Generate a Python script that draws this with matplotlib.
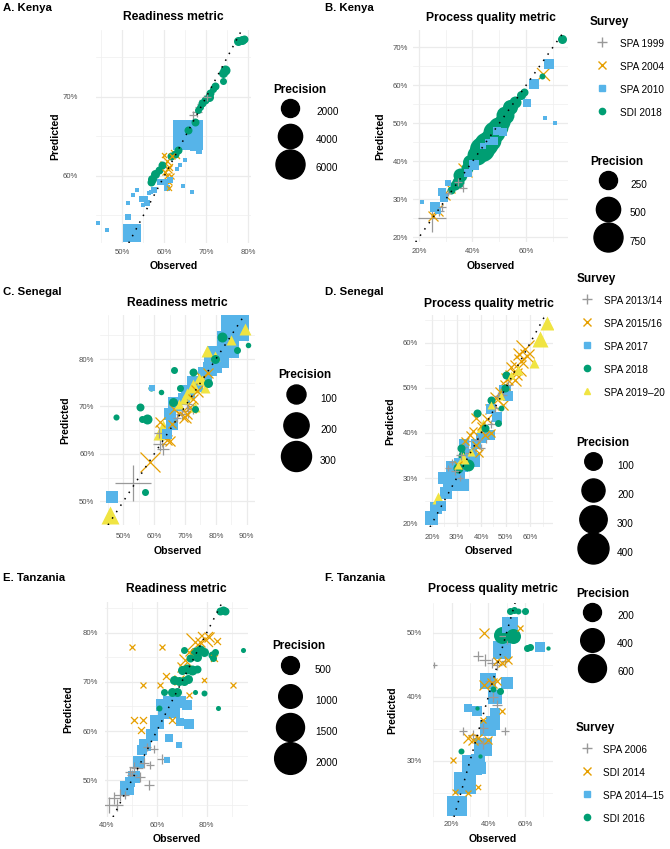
import matplotlib
matplotlib.use("Agg")
import matplotlib.pyplot as plt
from matplotlib.lines import Line2D
import numpy as np

plt.rcParams['font.family'] = ['Liberation Sans', 'DejaVu Sans']

# ---------------- data: observed %, predicted %, precision ----------------
# A. Kenya - readiness
a_surveys = ['SPA 1999', 'SPA 2004', 'SPA 2010', 'SDI 2018']
a_spa1999_obs = [69.3, 68.3, 67.7, 66.7, 70.1, 68.8]
a_spa1999_pred = [69.5, 68.7, 68.1, 67.7, 70.0, 69.0]
a_spa1999_prec = [434, 221, 319, 221, 142, 221]
a_spa2004_obs = [62.5, 61.9, 60.6, 59.8, 61.0, 60.2, 60.6, 61.0, 61.1, 59.8, 60.8, 61.5]
a_spa2004_pred = [62.8, 62.5, 61.8, 61.4, 61.1, 60.5, 59.9, 59.2, 58.4, 62.6, 60.8, 60.0]
a_spa2004_prec = [319, 80, 319, 221, 142, 80, 80, 80, 35, 35, 221, 80]
a_spa2010_obs = [65.5, 67.3, 68.3, 52.2, 44.1, 46.3, 51.4, 51.2, 53.4, 52.6, 55.4, 55.8, 55.0,
                 60.2, 60.6, 61.3, 62.9, 63.7, 64.8, 64.5, 66.5, 59.0, 56.8, 54.6, 56.2, 57.4]
a_spa2010_pred = [65.1, 63.7, 63.1, 52.8, 54.0, 53.1, 54.8, 56.5, 58.2, 57.6, 57.1, 56.5, 56.3,
                  59.2, 58.4, 59.5, 60.9, 61.4, 62.0, 58.7, 58.0, 59.2, 58.0, 57.1, 57.8, 58.2]
a_spa2010_prec = [6459, 434, 80, 1993, 35, 35, 80, 35, 35, 35, 80, 80, 35,
                  80, 80, 80, 35, 35, 35, 35, 9, 80, 35, 80, 35, 80]
a_sdi2018_obs = [77.5, 78.4, 79.0, 74.4, 74.0, 73.9, 72.1, 70.9, 70.5, 69.7, 69.0, 68.5,
                 67.9, 67.3, 65.6, 63.3, 62.5, 61.6, 59.4, 58.6, 57.8, 57.1, 56.8, 71.5]
a_sdi2018_pred = [77.0, 77.2, 77.3, 73.4, 73.0, 71.9, 71.3, 70.4, 70.0, 69.6, 69.2, 68.7,
                  68.3, 66.8, 65.8, 63.2, 62.8, 62.5, 61.4, 60.7, 60.2, 59.6, 59.2, 71.0]
a_sdi2018_prec = [319, 319, 221, 434, 319, 142, 221, 221, 319, 221, 221, 142,
                  142, 221, 221, 221, 221, 221, 221, 221, 319, 319, 221, 142]

# B. Kenya - process quality
b_spa1999_obs = [24.8, 28.5, 34.75, 36.6, 31.0, 27.5]
b_spa1999_pred = [25.2, 28.1, 34.6, 32.9, 31.6, 27.0]
b_spa1999_prec = [692, 28, 28, 28, 10, 54]
b_spa2004_obs = [66.5, 37.2, 31.6, 26.6, 25.4, 30.0]
b_spa2004_pred = [62.9, 37.8, 33.1, 27.3, 25.6, 30.8]
b_spa2004_prec = [111, 134, 54, 90, 54, 28]
b_spa2010_obs = [68.75, 62.9, 60.4, 67.0, 71.0, 49.1, 51.6, 48.0, 40.4, 38.5, 31.0, 28.5,
                 29.5, 26.0, 21.0, 27.0, 44.0, 46.0]
b_spa2010_pred = [65.6, 60.3, 55.3, 51.5, 50.0, 48.0, 47.8, 45.5, 39.1, 37.0, 34.2, 32.0,
                  30.5, 28.1, 29.4, 27.0, 44.0, 45.0]
b_spa2010_prec = [40, 40, 28, 4, 1, 28, 28, 18, 54, 28, 10, 28, 28, 40, 4, 10, 10, 10]
b_sdi2018_obs = [73.3, 66.0, 59.1, 58.0, 56.0, 54.1, 52.3, 51.0, 47.9, 46.6, 43.5, 41.6,
                 39.1, 37.9, 35.4, 34.75, 33.5, 32.0, 49.5, 45.0]
b_sdi2018_pred = [72.2, 62.5, 58.3, 57.5, 55.7, 54.4, 52.2, 50.4, 47.8, 45.6, 43.4, 41.7,
                  39.9, 38.2, 36.4, 34.6, 33.8, 32.5, 49.0, 44.5]
b_sdi2018_prec = [40, 10, 28, 40, 90, 160, 249, 187, 400, 400, 536, 320,
                  160, 90, 134, 90, 54, 28, 320, 489]

# C. Senegal - readiness
s_surveys = ['SPA 2013/14', 'SPA 2015/16', 'SPA 2017', 'SPA 2018', 'SPA 2019\u201320']
c_spa1314_obs = [53.2, 62.5, 61.9, 63.0, 61.5, 71.1, 69.0, 72.5, 70.5, 67.5]
c_spa1314_pred = [53.8, 63.2, 62.1, 61.1, 64.5, 69.1, 68.4, 69.5, 70.5, 67.5]
c_spa1314_prec = [453, 64, 44, 28, 16, 44, 28, 16, 16, 7]
c_spa1516_obs = [58.6, 63.0, 65.2, 68.4, 70.0, 71.6, 73.8, 75.4, 77.5, 61.9, 65.7, 66.5, 70.5, 72.5, 64.0]
c_spa1516_pred = [58.3, 64.6, 62.8, 68.4, 67.7, 69.8, 73.3, 76.1, 77.0, 66.7, 66.3, 69.5, 68.5, 71.5, 63.0]
c_spa1516_prec = [113, 44, 16, 64, 28, 28, 28, 28, 16, 16, 7, 16, 16, 16, 16]
c_spa2017_obs = [86.2, 84.0, 80.8, 79.2, 73.2, 71.1, 69.5, 66.8, 65.1, 65.7, 64.1, 59.2, 46.2, 76.5, 78.0, 82.5]
c_spa2017_pred = [86.7, 82.5, 80.4, 79.0, 74.7, 73.0, 71.5, 70.5, 68.4, 66.3, 64.2, 74.0, 50.9, 76.8, 78.0, 84.5]
c_spa2017_prec = [255, 143, 143, 87, 64, 44, 28, 44, 28, 28, 16, 1, 28, 44, 44, 44]
c_spa2018_obs = [81.9, 87.0, 79.7, 90.5, 66.4, 59.0, 62.2, 55.4, 47.5, 55.9, 57.6, 57.0, 72.7, 77.5, 73.2, 66.2, 68.5]
c_spa2018_pred = [84.7, 81.9, 80.0, 83.0, 77.8, 74.0, 73.0, 69.8, 67.7, 67.4, 67.4, 52.0, 77.2, 75.0, 69.5, 70.9, 74.0]
c_spa2018_prec = [16, 4, 11, 1, 4, 2, 1, 7, 2, 4, 16, 4, 7, 11, 4, 11, 4]
c_spa1920_obs = [89.5, 45.7, 77.0, 72.7, 74.5, 76.5, 70.5, 69.5, 68.0, 63.0, 61.4, 73.2, 75.5, 79.7, 85.0]
c_spa1920_pred = [86.3, 47.1, 81.8, 74.4, 76.0, 74.0, 72.6, 71.6, 70.5, 65.6, 64.2, 69.8, 75.5, 80.7, 84.0]
c_spa1920_prec = [28, 87, 28, 44, 16, 16, 28, 16, 16, 44, 28, 16, 16, 16, 16]

# D. Senegal - process quality
d_spa1314_obs = [34.6, 37.4, 31.9, 29.2, 42.1, 40.1, 46.8, 50.9, 31.3, 26.5, 45.5, 48.9,
                 35.0, 38.5, 33.0, 44.0, 41.0, 28.0]
d_spa1314_pred = [38.2, 37.0, 35.2, 31.5, 38.9, 36.7, 48.1, 50.7, 30.0, 32.3, 45.5, 48.5,
                  35.5, 38.5, 37.0, 42.0, 40.5, 33.5]
d_spa1314_prec = [20, 20, 20, 9, 20, 9, 9, 9, 2, 2, 9, 9, 9, 9, 9, 9, 9, 2]
d_spa1516_obs = [57.7, 55.0, 52.3, 49.6, 46.2, 43.5, 38.0, 35.3, 41.4, 33.3, 53.6, 56.3, 48.9, 38.0, 30.6,
                 45.0, 47.5, 50.5, 52.0, 54.0, 58.5, 40.0, 36.5, 42.5, 44.0, 39.0, 55.5]
d_spa1516_pred = [58.5, 54.4, 52.5, 50.7, 47.7, 45.2, 43.3, 39.6, 39.6, 38.2, 51.8, 55.9, 46.3, 37.4, 33.0,
                  46.5, 49.0, 52.0, 54.5, 53.0, 57.0, 41.5, 40.5, 43.0, 40.0, 35.5, 57.5]
d_spa1516_prec = [108, 79, 35, 20, 35, 20, 20, 9, 9, 9, 35, 55, 20, 9, 9,
                  20, 20, 35, 20, 35, 55, 9, 9, 20, 9, 9, 35]
d_spa2017_obs = [19.7, 21.8, 27.9, 30.6, 31.9, 36.0, 40.1, 44.1, 49.6, 50.9, 43.5, 23.8, 36.7, 25.8, 29.2,
                 25.0, 32.5, 38.0, 46.5, 33.0, 28.0]
d_spa2017_pred = [21.2, 23.4, 28.9, 30.8, 33.0, 35.2, 38.9, 45.2, 49.2, 48.1, 39.6, 23.8, 34.1, 26.7, 29.7,
                  30.0, 28.5, 37.5, 43.5, 37.5, 32.5]
d_spa2017_prec = [55, 35, 79, 55, 55, 35, 20, 20, 35, 20, 20, 20, 55, 35, 55, 35, 35, 20, 20, 20, 35]
d_spa2018_obs = [34.0, 30.6, 50.2, 44.1, 38.4, 46.8, 49.6, 48.2, 31.9, 41.4, 34.6]
d_spa2018_pred = [34.8, 32.3, 52.9, 47.4, 44.4, 42.2, 50.0, 45.5, 36.7, 41.1, 33.0]
d_spa2018_prec = [79, 20, 9, 9, 9, 5, 9, 2, 9, 9, 35]
d_spa1920_obs = [66.9, 63.8, 61.5, 22.4, 40.7, 32.6, 55.0, 48.2, 44.1, 36.0, 30.6, 52.3]
d_spa1920_pred = [64.4, 60.7, 55.5, 25.6, 41.5, 34.5, 54.0, 48.1, 46.3, 35.9, 33.0, 52.9]
d_spa1920_prec = [55, 79, 20, 35, 55, 35, 20, 9, 9, 9, 9, 9]

# E. Tanzania - readiness
t_surveys = ['SPA 2006', 'SDI 2014', 'SPA 2014\u201315', 'SDI 2016']
e_spa2006_obs = [40.7, 42.7, 45.3, 49.3, 52.0, 50.7, 54.7, 57.3, 62.0, 56.7, 47.3, 44.0, 58.7, 50.0, 53.3, 56.0]
e_spa2006_pred = [44.9, 46.3, 46.9, 51.7, 52.4, 52.7, 53.4, 53.0, 54.4, 49.0, 46.9, 44.9, 56.4, 51.0, 50.7, 56.8]
e_spa2006_prec = [374, 166, 166, 94, 166, 94, 94, 42, 94, 94, 42, 166, 42, 94, 94, 42]
e_sdi2014_obs = [50.0, 62.0, 54.4, 61.1, 90.4, 50.7, 54.3, 53.7, 63.6, 78.7, 84.0, 82.7, 79.3,
                 77.3, 80.7, 75.3, 71.3, 70.0, 68.7, 66.0, 72.7, 72.7]
e_sdi2014_pred = [77.0, 77.0, 69.3, 69.3, 69.3, 62.2, 62.2, 60.2, 71.2, 70.3, 78.4, 74.8, 78.8,
                  78.2, 79.2, 78.2, 74.4, 73.1, 70.4, 62.2, 67.3, 76.1]
e_sdi2014_prec = [10, 10, 10, 10, 10, 23, 23, 23, 23, 3, 23, 23, 315, 94, 94, 510, 166, 94, 94, 23, 10, 42]
e_spa1415_obs = [48.0, 50.7, 52.7, 55.3, 58.0, 60.0, 63.3, 64.7, 69.3, 72.0, 72.7, 69.3, 64.7,
                 68.7, 64.0, 54.0, 49.3, 62.0, 67.3]
e_spa1415_pred = [48.4, 50.7, 53.7, 57.1, 59.2, 61.9, 63.9, 65.9, 65.9, 65.3, 61.5, 61.9, 58.5,
                  57.1, 54.1, 56.1, 49.7, 65.3, 63.6]
e_spa1415_prec = [260, 166, 166, 166, 166, 260, 260, 166, 166, 94, 94, 42, 42, 10, 10, 94, 94, 166, 94]
e_sdi2016_obs = [85.3, 86.4, 87.3, 94.3, 70.7, 75.3, 77.3, 78.7, 76.0, 73.3, 82.0, 83.3, 82.4, 70.0,
                 72.0, 74.0, 76.0, 66.7, 68.7, 70.7, 72.3, 62.7, 66.0, 68.0, 75.3, 78.7, 84.3, 60.7]
e_sdi2016_pred = [84.4, 84.6, 84.4, 76.5, 76.5, 76.1, 76.5, 76.1, 75.1, 74.8, 75.5, 76.1, 74.9, 72.4,
                  72.6, 72.4, 72.7, 70.4, 70.2, 70.2, 70.6, 68.0, 68.0, 68.0, 68.0, 67.8, 64.6, 64.6]
e_sdi2016_prec = [42, 42, 42, 3, 23, 94, 94, 65, 65, 42, 42, 23, 23, 65,
                  94, 94, 42, 65, 65, 65, 65, 23, 65, 65, 3, 10, 3, 10]

# F. Tanzania - process quality
f_spa2006_obs = [10.5, 34.5, 38.2, 41.8, 44.5, 49.1, 50.0, 40.9, 42.7, 37.3, 26.4, 49.1, 31.8, 37.3, 44.5]
f_spa2006_pred = [45.0, 46.3, 45.7, 45.2, 45.0, 45.5, 49.4, 42.4, 40.0, 35.1, 34.6, 34.6, 34.1, 32.8, 38.7]
f_spa2006_prec = [3, 35, 64, 35, 35, 15, 147, 35, 35, 35, 15, 15, 35, 64, 35]
f_sdi2014_obs = [37.8, 44.5, 47.3, 50.9, 37.8, 41.8, 44.5, 47.3, 29.1, 31.8, 34.5, 40.0, 37.3,
                 20.9, 21.8, 29.1, 34.5, 57.3]
f_sdi2014_pred = [49.9, 45.5, 45.2, 45.7, 41.8, 42.1, 42.4, 37.7, 33.5, 33.3, 33.5, 33.3, 36.4,
                  30.2, 25.2, 25.0, 26.0, 50.7]
f_sdi2014_prec = [35, 15, 15, 15, 35, 35, 15, 3, 35, 35, 15, 15, 3, 3, 3, 3, 1, 3]
f_spa1415_obs = [22.7, 27.3, 30.9, 37.3, 40.0, 42.7, 40.0, 50.0, 47.3, 51.8, 29.1, 33.6, 43.6,
                 68.2, 34.5, 43.6, 35.5]
f_spa1415_pred = [22.9, 26.5, 29.4, 32.2, 35.1, 35.9, 42.4, 42.1, 47.3, 51.2, 38.2, 37.7, 37.4,
                  47.8, 29.9, 40.0, 28.9]
f_spa1415_prec = [264, 336, 264, 201, 147, 101, 147, 64, 201, 147, 15, 35, 35, 35, 101, 101, 64]
f_sdi2016_obs = [47.3, 50.9, 53.6, 51.8, 54.2, 56.0, 60.0, 60.9, 62.7, 72.4, 46.4, 42.7, 33.6, 25.1, 35.5]
f_sdi2016_pred = [49.6, 49.7, 49.4, 53.4, 53.5, 53.4, 53.4, 47.6, 47.7, 47.6, 40.9, 41.2, 38.2, 31.5, 30.7]
f_sdi2016_prec = [173, 173, 123, 8, 8, 3, 8, 8, 8, 0, 8, 3, 0, 3, 0]

# marker / colour per survey position
STYLES = [('+', '#999999'), ('x', '#E69F00'), ('s', '#56B4E9'), ('o', '#009E73'), ('^', '#F0E442')]

W, H = 670, 849
fig = plt.figure(figsize=(W / 100, H / 100), dpi=100)


def rect(box):
    l, t, r, b = box
    return [l / W, 1 - b / H, (r - l) / W, (b - t) / H]


def diam(v, d0, c):
    # marker diameter in px, area scale like ggplot's scale_size
    return d0 + c * np.sqrt(v)


panels = [
    dict(tag='A. Kenya', tag_xy=(3, 8), title='Readiness metric', box=(96, 30, 251, 243),
         series=[(a_spa1999_obs, a_spa1999_pred, a_spa1999_prec), (a_spa2004_obs, a_spa2004_pred, a_spa2004_prec),
                 (a_spa2010_obs, a_spa2010_pred, a_spa2010_prec), (a_sdi2018_obs, a_sdi2018_pred, a_sdi2018_prec)],
         size=(3.0, 0.336), xlim=(43.7, 80.6), ylim=(51.5, 78.4),
         xt=[50, 60, 70, 80], xm=[45, 55, 65, 75], yt=[60, 70], ym=[55, 65, 75],
         ypad=13, xpad=4, tpad=7, xlab_y=266, ylab_x=55),
    dict(tag='B. Kenya', tag_xy=(325, 8), title='Process quality metric', box=(413, 30, 568, 242),
         series=[(b_spa1999_obs, b_spa1999_pred, b_spa1999_prec), (b_spa2004_obs, b_spa2004_pred, b_spa2004_prec),
                 (b_spa2010_obs, b_spa2010_pred, b_spa2010_prec), (b_sdi2018_obs, b_sdi2018_pred, b_sdi2018_prec)],
         size=(3.0, 0.95), xlim=(17.8, 75.7), ylim=(18.8, 74.6),
         xt=[20, 40, 60], xm=[30, 50, 70], yt=[20, 30, 40, 50, 60, 70], ym=[25, 35, 45, 55, 65],
         ypad=3.4, xpad=4, tpad=6.5, xlab_y=266, ylab_x=380),
    dict(tag='C. Senegal', tag_xy=(3, 292), title='Readiness metric', box=(100, 315, 255, 525),
         series=[(c_spa1314_obs, c_spa1314_pred, c_spa1314_prec), (c_spa1516_obs, c_spa1516_pred, c_spa1516_prec),
                 (c_spa2017_obs, c_spa2017_pred, c_spa2017_prec), (c_spa2018_obs, c_spa2018_pred, c_spa2018_prec),
                 (c_spa1920_obs, c_spa1920_pred, c_spa1920_prec)],
         size=(4.0, 1.503), xlim=(42.4, 92.7), ylim=(45.2, 89.3),
         xt=[50, 60, 70, 80, 90], xm=[45, 55, 65, 75, 85], yt=[50, 60, 70, 80], ym=[45, 55, 65, 75, 85],
         ypad=4, xpad=6, tpad=6.3, xlab_y=551, ylab_x=65),
    dict(tag='D. Senegal', tag_xy=(325, 292), title='Process quality metric', box=(425, 315, 553, 527),
         series=[(d_spa1314_obs, d_spa1314_pred, d_spa1314_prec), (d_spa1516_obs, d_spa1516_pred, d_spa1516_prec),
                 (d_spa2017_obs, d_spa2017_pred, d_spa2017_prec), (d_spa2018_obs, d_spa2018_pred, d_spa2018_prec),
                 (d_spa1920_obs, d_spa1920_pred, d_spa1920_prec)],
         size=(4.0, 1.35), xlim=(17.15, 69.2), ylim=(19.2, 66.1),
         xt=[20, 30, 40, 50, 60], xm=[25, 35, 45, 55, 65], yt=[20, 30, 40, 50, 60], ym=[25, 35, 45, 55, 65],
         ypad=4.8, xpad=4.7, tpad=5.8, xlab_y=551, ylab_x=390),
    dict(tag='E. Tanzania', tag_xy=(3, 578), title='Readiness metric', box=(105, 602, 248, 817),
         series=[(e_spa2006_obs, e_spa2006_pred, e_spa2006_prec), (e_sdi2014_obs, e_sdi2014_pred, e_sdi2014_prec),
                 (e_spa1415_obs, e_spa1415_pred, e_spa1415_prec), (e_sdi2016_obs, e_sdi2016_pred, e_sdi2016_prec)],
         size=(4.0, 0.62), xlim=(39.3, 96.5), ylim=(42.5, 86.25),
         xt=[40, 60, 80], xm=[50, 70, 90], yt=[50, 60, 70, 80], ym=[45, 55, 65, 75, 85],
         ypad=4.8, xpad=3.7, tpad=7, xlab_y=839, ylab_x=68),
    dict(tag='F. Tanzania', tag_xy=(325, 578), title='Process quality metric', box=(433, 603, 553, 817),
         series=[(f_spa2006_obs, f_spa2006_pred, f_spa2006_prec), (f_sdi2014_obs, f_sdi2014_pred, f_sdi2014_prec),
                 (f_spa1415_obs, f_spa1415_pred, f_spa1415_prec), (f_sdi2016_obs, f_sdi2016_pred, f_sdi2016_prec)],
         size=(4.3, 0.966), xlim=(9.8, 75.3), ylim=(21.25, 54.6),
         xt=[20, 40, 60], xm=[10, 30, 50, 70], yt=[30, 40, 50], ym=[25, 35, 45],
         ypad=7.7, xpad=3.2, tpad=7.7, xlab_y=839, ylab_x=392),
]

for p in panels:
    ax = fig.add_axes(rect(p['box']))
    d0, c = p['size']

    # collect every point, draw the biggest first so small ones stay visible
    pts = []
    for k, (obs, pred, prec) in enumerate(p['series']):
        for x, y, v in zip(obs, pred, prec):
            pts.append((diam(v, d0, c), x, y, k))
    pts.sort(key=lambda q: -q[0])
    for d, x, y, k in pts:
        m, col = STYLES[k]
        line_marker = m in ('+', 'x')
        ax.scatter(x, y, s=(d * 0.72) ** 2, marker=m, c=col,
                   linewidths=0.9 if line_marker else 0, zorder=3)

    ax.axline((0, 0), slope=1, color='black', lw=1.1, ls=(0, (1, 4)),
              dash_capstyle='butt', zorder=5)

    ax.set_xlim(*p['xlim'])
    ax.set_ylim(*p['ylim'])
    ax.set_xticks(p['xt'])
    ax.set_xticks(p['xm'], minor=True)
    ax.set_yticks(p['yt'])
    ax.set_yticks(p['ym'], minor=True)
    ax.set_xticklabels([f'{v}%' for v in p['xt']])
    ax.set_yticklabels([f'{v}%' for v in p['yt']])
    ax.grid(which='major', color='#EBEBEB', lw=0.9, zorder=0)
    ax.grid(which='minor', color='#EFEFEF', lw=0.5, zorder=0)
    ax.set_axisbelow(True)
    for s in ax.spines.values():
        s.set_visible(False)
    ax.tick_params(which='both', length=0, labelsize=5.6, labelcolor='#4D4D4D')
    ax.tick_params(axis='y', pad=p['ypad'])
    ax.tick_params(axis='x', pad=p['xpad'])

    ax.set_title(p['title'], fontsize=8.7, fontweight='bold', pad=p['tpad'])
    ax.set_xlabel('Observed', fontsize=7.6, fontweight='bold')
    ax.set_ylabel('Predicted', fontsize=7.6, fontweight='bold')
    l, t, r, b = p['box']
    ax.xaxis.set_label_coords(0.5, (b - p['xlab_y']) / (b - t))
    ax.yaxis.set_label_coords((p['ylab_x'] - l) / (r - l), 0.5)
    ax.xaxis.label.set_va('center')
    ax.yaxis.label.set_va('center')

    fig.text(p['tag_xy'][0] / W, 1 - p['tag_xy'][1] / H, p['tag'],
             fontsize=8.2, fontweight='bold', va='center', ha='left')


def row_height(pitch, gap):
    # matplotlib legend handle box: height = fs * (0.65 * hh + 0.245), fs = 10 px here
    return ((pitch - gap) / 10 - 0.245) / 0.65


def survey_legend(names, x, y, hl, pad):
    sizes = {'+': 7, 'x': 5.5, 's': 4.3, 'o': 4.5, '^': 5}
    handles = [Line2D([], [], ls='', marker=STYLES[i][0], color=STYLES[i][1],
                      markersize=sizes[STYLES[i][0]], mew=1.0) for i in range(len(names))]
    fig.legend(handles, names, loc='upper left', bbox_to_anchor=(x / W, 1 - (y - 5) / H),
               frameon=False, title='Survey', title_fontproperties={'weight': 'bold', 'size': 8.5},
               fontsize=7.2, alignment='left', borderpad=0, borderaxespad=0,
               handlelength=hl, handletextpad=pad, handleheight=row_height(23, 9), labelspacing=0.9)


def size_legend(breaks, d0, c, x, y, pitch, hl, pad):
    handles = [Line2D([], [], ls='', marker='o', color='black',
                      markersize=diam(v, d0, c) * 0.72) for v in breaks]
    fig.legend(handles, [str(v) for v in breaks], loc='upper left',
               bbox_to_anchor=(x / W, 1 - (y - 5) / H), frameon=False, title='Precision',
               title_fontproperties={'weight': 'bold', 'size': 8.5}, fontsize=7.2,
               alignment='left', borderpad=0, borderaxespad=0, handlelength=hl,
               handletextpad=pad, handleheight=row_height(pitch, 5), labelspacing=0.5)


size_legend([2000, 4000, 6000], 3.0, 0.336, 273, 89, 28, 3.4, 0.9)
survey_legend(a_surveys, 590, 21, 2.3, 0.66)
size_legend([250, 500, 750], 3.0, 0.95, 590, 161, 28.5, 3.6, 0.4)
size_legend([100, 200, 300], 4.0, 1.503, 278, 374, 31, 3.6, 0.6)
survey_legend(s_surveys, 577, 278, 2.0, 0.66)
size_legend([100, 200, 300, 400], 4.0, 1.35, 576, 442, 29, 3.4, 0.7)
size_legend([500, 1000, 1500, 2000], 4.0, 0.62, 272, 645, 31, 3.6, 0.7)
size_legend([200, 400, 600], 4.3, 0.966, 576, 593, 28, 3.2, 0.9)
survey_legend(t_surveys, 576, 727, 2.2, 0.5)

fig.savefig('out.png', dpi=100, facecolor='white')
